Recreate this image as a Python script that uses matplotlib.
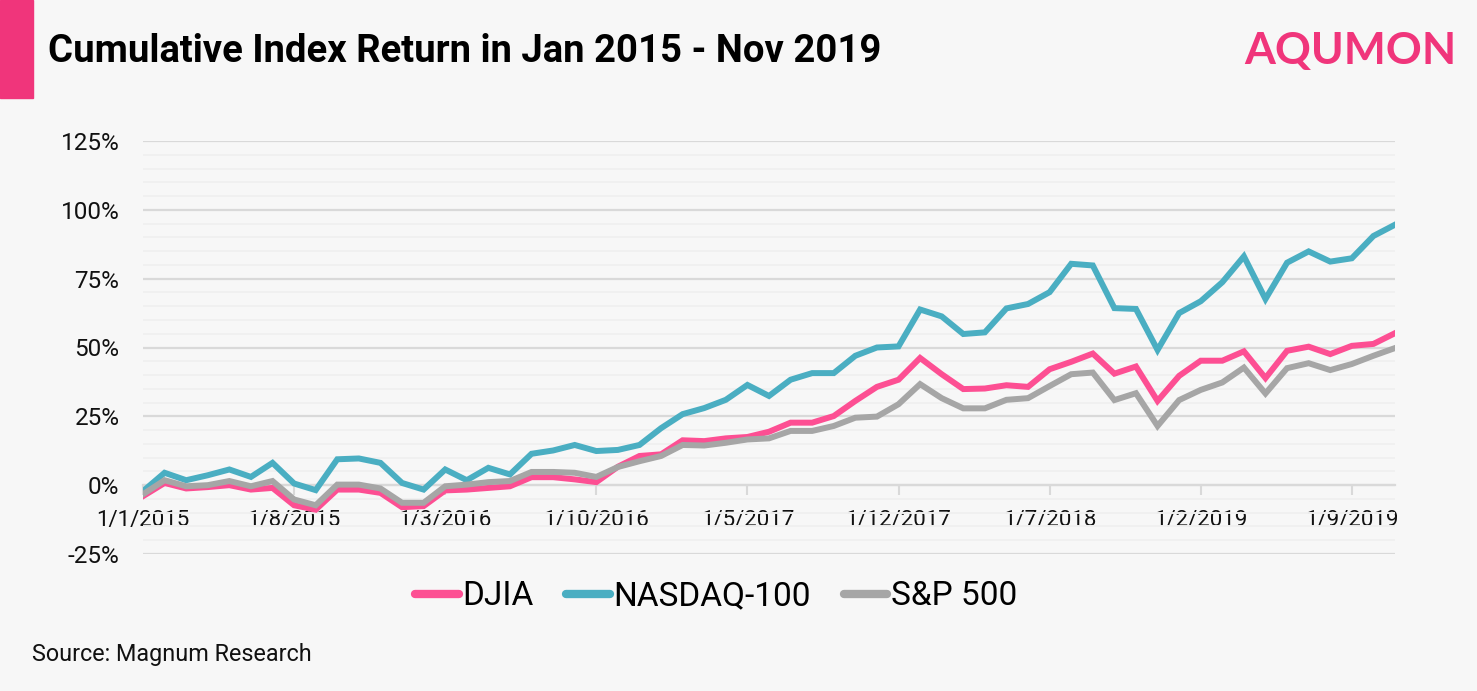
import matplotlib
matplotlib.use("Agg")
import matplotlib.pyplot as plt
from matplotlib.patches import Rectangle
from matplotlib.ticker import MultipleLocator, FuncFormatter
import pandas as pd

# monthly cumulative returns (%), Jan 2015 - Nov 2019
months = pd.date_range("2015-01-01", periods=59, freq="MS")

djia = [-4.0, 0.8, -1.2, -0.7, 0.0, -1.6, -1.0, -7.3, -8.9, -1.6, -1.6, -2.8, -8.0,
        -7.6, -1.9, -1.6, -1.0, -0.4, 2.9, 2.9, 2.1, 1.1, 6.7, 10.6, 11.2, 16.3, 16.0,
        17.0, 17.5, 19.4, 22.7, 22.7, 25.1, 30.6, 35.7, 38.3, 46.2, 40.3, 34.9, 35.1,
        36.3, 35.7, 42.1,
        44.8, 47.8, 40.5, 43.1, 30.6, 39.7, 45.2, 45.2, 48.6, 38.9, 48.8, 50.3, 47.6,
        50.6, 51.3, 55.2]
nasdaq100 = [-2.2, 4.5, 1.8, 3.6, 5.7, 3.0, 8.1, 0.6, -1.8, 9.4, 9.7, 8.1, 0.8,
             -1.6, 5.7, 1.8, 6.3, 3.9, 11.4, 12.6, 14.6, 12.4, 12.8, 14.6, 20.7, 25.8, 28.0,
             31.0, 36.4, 32.4, 38.3, 40.7, 40.7, 47.0, 50.0, 50.4, 63.8, 61.3, 54.9, 55.5,
             64.2, 65.8, 70.1,
             80.4, 79.8, 64.3, 64.0, 49.1, 62.5, 66.8, 73.7, 83.1, 67.6, 80.8, 84.9, 81.2,
             82.4, 90.5, 94.6]
sp500 = [-3.3, 1.8, -0.4, 0.0, 1.5, -0.4, 1.5, -5.2, -7.3, 0.2, 0.2, -1.2, -6.4,
         -6.4, -0.4, 0.2, 1.1, 1.5, 4.8, 4.8, 4.5, 3.0, 6.6, 8.7, 10.6, 14.6, 14.4,
         15.4, 16.6, 17.0, 19.7, 19.7, 21.5, 24.5, 24.9, 29.4, 36.7, 31.6, 27.9, 27.9,
         31.0, 31.6, 36.0,
         40.3, 40.9, 30.9, 33.4, 21.5, 30.9, 34.6, 37.3, 42.7, 33.3, 42.5, 44.3, 41.8,
         44.0, 47.0, 49.8]

series_names = ["DJIA", "NASDAQ-100", "S&P 500"]
colors = ["#fd4f93", "#4aaec2", "#a6a6a6"]

BG = "#f7f7f7"
PINK = "#f0357b"
FONT = ["Roboto", "DejaVu Sans"]

plt.rcParams["font.family"] = FONT

fig = plt.figure(figsize=(14.77, 6.91), dpi=100, facecolor=BG)
ax = fig.add_axes([143 / 1477, 1 - 554 / 691, (1395 - 143) / 1477, (554 - 141) / 691])
ax.set_facecolor(BG)

x = list(range(len(months)))
for vals, name, c in zip([djia, nasdaq100, sp500], series_names, colors):
    ax.plot(x, vals, color=c, lw=4.3, label=name, solid_joinstyle="miter", zorder=3)

ax.set_xlim(0, len(months) - 1)
ax.set_ylim(-25, 125)
ax.yaxis.set_major_locator(MultipleLocator(25))
ax.yaxis.set_minor_locator(MultipleLocator(5))
ax.yaxis.set_major_formatter(FuncFormatter(lambda v, p: f"{v:.0f}%"))
ax.grid(axis="y", which="major", color="#d9d9d9", lw=1.6, zorder=0)
ax.grid(axis="y", which="minor", color="#f0f0f0", lw=1.4, zorder=0)
ax.tick_params(axis="y", which="both", length=0, labelsize=17.5, pad=17, colors="#111111")

tick_idx = x[::7]
ax.set_xticks(tick_idx)
ax.set_xticklabels([f"{d.day}/{d.month}/{d.year}" for d in months[::7]])
ax.tick_params(axis="x", length=7, width=1.5, color="#d9d9d9", labelsize=16, pad=11,
               labelcolor="#111111")
for s in ["top", "right", "left"]:
    ax.spines[s].set_visible(False)
ax.spines["bottom"].set_position(("data", 0))
ax.spines["bottom"].set_color("#d9d9d9")
ax.spines["bottom"].set_linewidth(1.6)
ax.spines["bottom"].set_zorder(1)

leg = fig.legend(loc="center", bbox_to_anchor=(0.4848, 0.137), ncol=3, frameon=False,
                 fontsize=24, handlelength=1.3, handletextpad=0.1, columnspacing=1.0)
for h in leg.legend_handles:
    h.set_linewidth(6)
    h.set_solid_capstyle("round")

# header
fig.patches.append(Rectangle((0, 1 - 98 / 691), 33 / 1477, 98 / 691,
                             transform=fig.transFigure, color=PINK, zorder=5))
fig.text(48 / 1477, 1 - 52 / 691, "Cumulative Index Return in Jan 2015 - Nov 2019",
         fontsize=27.5, fontweight="bold", va="center", ha="left", color="#000000")
fig.text(1457 / 1477, 1 - 51 / 691, "AQUMON", fontsize=32, color=PINK, fontweight="bold",
         family=["Lato", "DejaVu Sans"], va="center", ha="right")
fig.text(32 / 1477, 1 - 655 / 691, "Source: Magnum Research", fontsize=16.8,
         va="center", ha="left", color="#111111")

fig.savefig("out.png", dpi=100, facecolor=BG)
